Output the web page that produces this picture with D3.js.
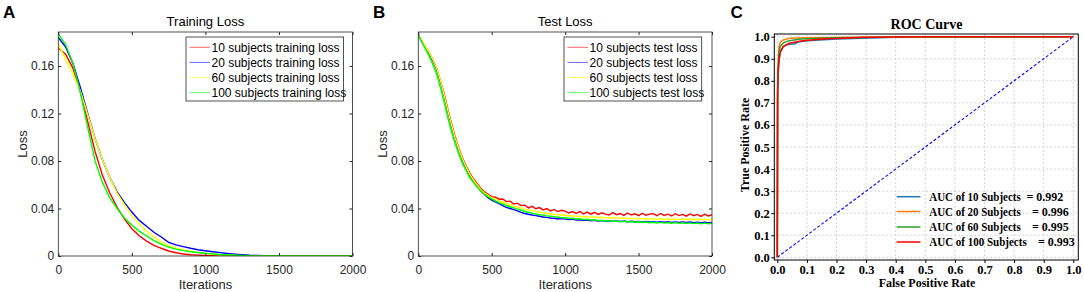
<!DOCTYPE html>
<html><head><meta charset="utf-8">
<script src="https://cdn.jsdelivr.net/npm/d3@7"></script>
<style>body{margin:0;background:#fff} svg{display:block} text{white-space:pre}</style>
</head><body><svg id="c" width="1084" height="292"></svg>
<script>
// ---------- DATA ----------
const trainIters = [0,50,100,150,200,250,300,350,400,450,500,550,600,650,700,750,800,850,900,950,1000,1050,1100,1150,1200,1250,1300,1350,1400,1450,1500,1550,1600,1650,1700,1750,1800,1850,1900,1950,2000];
const trainLabels = ["10 subjects training loss","20 subjects training loss","60 subjects training loss","100 subjects training loss"];
const train10 = [0.175,0.170,0.158,0.138,0.113,0.088,0.068,0.053,0.041,0.031,0.023,0.017,0.0125,0.009,0.0065,0.0042,0.0027,0.0017,0.0011,0.0007,0.0004,0.0002,0.0001,0,0,0,0,0,0,0,0,0,0,0,0,0,0,0,0,0,0];
const train20 = [0.184,0.176,0.162,0.142,0.120,0.099,0.081,0.066,0.054,0.045,0.037,0.030,0.025,0.020,0.016,0.0115,0.0094,0.0079,0.0065,0.0053,0.0044,0.0036,0.0028,0.0021,0.0015,0.0010,0.0006,0.0004,0.0002,0.0001,0.0001,0,0,0,0,0,0,0,0,0,0];
const train60 = [0.178,0.166,0.153,0.139,0.119,0.099,0.081,0.066,0.053,0.043,0.034,0.027,0.021,0.016,0.012,0.0085,0.0065,0.005,0.0038,0.0028,0.0020,0.0015,0.0011,0.0008,0.0005,0.0003,0.0002,0.0001,0.0001,0,0,0,0,0,0,0,0,0,0,0,0];
const train100 = [0.187,0.178,0.162,0.138,0.108,0.080,0.062,0.049,0.040,0.032,0.026,0.021,0.017,0.013,0.010,0.0075,0.0058,0.0045,0.0036,0.0029,0.0023,0.0018,0.0013,0.0009,0.0006,0.0004,0.0002,0.0001,0.0001,0,0,0,0,0,0,0,0,0,0,0,0];

const testIters = [0,25,50,75,100,125,150,175,200,225,250,275,300,325,350,375,400,425,450,475,500,525,550,575,600,625,650,675,700,725,750,775,800,825,850,875,900,925,950,975,1000,1025,1050,1075,1100,1125,1150,1175,1200,1225,1250,1275,1300,1325,1350,1375,1400,1425,1450,1475,1500,1525,1550,1575,1600,1625,1650,1675,1700,1725,1750,1775,1800,1825,1850,1875,1900,1925,1950,1975,2000];
const testLabels = ["10 subjects test loss","20 subjects test loss","60 subjects test loss","100 subjects test loss"];
const test10 = [0.186,0.181,0.176,0.171,0.165,0.158,0.148,0.137,0.124,0.112,0.101,0.091,0.083,0.076,0.070,0.065,0.061,0.057,0.054,0.052,0.050,
 0.0495,0.0478,0.0480,0.0458,0.0462,0.0438,0.0445,0.0425,0.0428,0.0405,0.0418,0.0398,0.0408,0.0388,0.0400,0.0380,0.0392,0.0374,0.0385,
 0.0378,0.0362,0.0374,0.0358,0.0376,0.0354,0.0370,0.0352,0.0368,0.0350,0.0364,0.0352,0.0346,0.0366,0.0348,0.0358,0.0342,0.0362,0.0345,0.0355,0.0340,0.0360,0.0343,0.0353,0.0356,0.0339,0.0358,0.0342,0.0352,0.0337,0.0356,0.0340,0.0350,0.0335,0.0354,0.0339,0.0350,0.0334,0.0352,0.0337,0.0348];
const test20 = [0.186,0.180,0.175,0.170,0.164,0.157,0.147,0.135,0.122,0.110,0.099,0.089,0.081,0.074,0.068,0.063,0.059,0.055,0.052,0.049,0.047,
 0.0455,0.044,0.0425,0.041,0.040,0.039,0.038,0.0368,0.0358,0.0352,0.0345,0.034,0.0335,0.0328,0.0325,0.032,0.0318,0.0312,0.0315,0.031,0.0306,0.031,0.0302,0.0305,0.030,0.0303,0.0297,0.0301,0.0295,0.0298,0.0293,0.0297,0.0292,0.0295,0.029,0.0294,0.0289,0.0293,0.0288,0.0291,0.0287,0.029,0.0286,0.0289,0.0285,0.0289,0.0284,0.0288,0.0283,0.0287,0.0283,0.0286,0.0282,0.0286,0.0281,0.0285,0.0281,0.0284,0.028,0.0283];
const test60 = [0.186,0.181,0.176,0.171,0.165,0.158,0.148,0.136,0.123,0.111,0.100,0.090,0.082,0.075,0.069,0.064,0.060,0.056,0.053,0.051,0.049,
 0.0478,0.0462,0.0455,0.044,0.0432,0.042,0.0412,0.0405,0.0392,0.039,0.038,0.0378,0.0368,0.0365,0.0358,0.0356,0.0348,0.035,0.0343,0.0345,0.0337,0.034,0.0332,0.0336,0.0328,0.0333,0.0325,0.033,0.0322,0.0327,0.032,0.0324,0.0318,0.0323,0.0316,0.032,0.0314,0.0319,0.0313,0.0317,0.0311,0.0316,0.031,0.0315,0.0309,0.0314,0.0308,0.0313,0.0307,0.0312,0.0306,0.0312,0.0306,0.0311,0.0305,0.0311,0.0305,0.031,0.0304,0.0309];
const test100 = [0.186,0.180,0.174,0.168,0.161,0.153,0.142,0.130,0.117,0.105,0.095,0.086,0.078,0.072,0.066,0.062,0.058,0.055,0.052,0.050,0.048,
 0.0465,0.045,0.0438,0.0425,0.0415,0.0405,0.0395,0.0385,0.0375,0.0368,0.036,0.0355,0.0348,0.0345,0.0338,0.0336,0.033,0.0328,0.0322,0.0323,0.0316,0.0318,0.0311,0.0313,0.0306,0.0309,0.0302,0.0305,0.0298,0.0301,0.0295,0.0298,0.0291,0.0295,0.0288,0.0292,0.0286,0.029,0.0284,0.0288,0.0282,0.0286,0.028,0.0284,0.0278,0.0283,0.0277,0.0282,0.0276,0.0281,0.0275,0.028,0.0274,0.0279,0.0273,0.0278,0.0272,0.0277,0.0272,0.0276];

const lossXTicks = [0,500,1000,1500,2000];
const lossYTicks = [0,0.04,0.08,0.12,0.16];
const lossColors = ["#ff0000","#0000ff","#ffff00","#00ff00"];

const rocNames = ["AUC of 10 Subjects","AUC of 20 Subjects","AUC of 60 Subjects","AUC of 100 Subjects"];
const rocAUC = ["= 0.992","= 0.996","= 0.995","= 0.993"];
const rocColors = ["#1f77b4","#ff7f0e","#2ca02c","#ff0000"];
const roc10FPR = [0,0.001,0.002,0.005,0.01,0.02,0.03,0.045,0.06,0.07,0.1,0.2,0.4,1];
const roc10TPR = [0,0.70,0.80,0.88,0.93,0.955,0.963,0.966,0.968,0.976,0.982,0.99,0.998,1];
const roc20FPR = [0,0.001,0.002,0.005,0.01,0.02,0.04,0.1,0.3,1];
const roc20TPR = [0,0.75,0.85,0.95,0.975,0.985,0.993,0.995,0.998,1];
const roc60FPR = [0,0.001,0.002,0.005,0.01,0.02,0.04,0.08,0.2,0.4,1];
const roc60TPR = [0,0.72,0.83,0.92,0.955,0.972,0.982,0.99,0.995,0.999,1];
const roc100FPR = [0,0.001,0.003,0.006,0.01,0.02,0.04,0.08,0.15,0.3,0.5,1];
const roc100TPR = [0,0.75,0.85,0.90,0.93,0.955,0.97,0.98,0.99,0.997,1,1];
const rocTicks = [0,0.1,0.2,0.3,0.4,0.5,0.6,0.7,0.8,0.9,1.0];

// ---------- DRAW ----------
const svg = d3.select('#c');
const SANS = "'Liberation Sans', Arial, Helvetica, sans-serif";
const SERIF = "'Liberation Serif', 'Times New Roman', serif";
const AX = "#262626";

function letter(x, t){
  svg.append('text').attr('x',x).attr('y',18).attr('font-family',SANS).attr('font-weight','bold')
    .attr('font-size',17).attr('fill','#000').text(t);
}

function lossPanel(o){
  const x = d3.scaleLinear().domain([0,2000]).range([o.x0,o.x1]);
  const y = d3.scaleLinear().domain([0,0.1886]).range([256,32]);
  const g = svg.append('g');
  g.append('rect').attr('x',o.x0).attr('y',32).attr('width',o.x1-o.x0).attr('height',224).attr('fill','#fff');
  const clip = 'clip'+o.id;
  svg.append('clipPath').attr('id',clip).append('rect').attr('x',o.x0).attr('y',32).attr('width',o.x1-o.x0).attr('height',224);
  const line = d3.line().x(d=>x(d[0])).y(d=>y(d[1]));
  const cg = g.append('g').attr('clip-path',`url(#${clip})`);
  o.series.forEach((s,i)=>{
    cg.append('path').datum(o.iters.map((t,k)=>[t,s[k]])).attr('d',line)
      .attr('fill','none').attr('stroke',lossColors[i]).attr('stroke-width',1.4);
  });
  const fmtY = d=> d===0 ? '0' : d.toFixed(2);
  const styleAx = a=>{ a.select('.domain').remove(); a.selectAll('line').attr('stroke',AX);
    a.selectAll('text').attr('font-family',SANS).attr('font-size',12).attr('fill',AX); };
  g.append('g').attr('transform','translate(0,256)')
    .call(d3.axisBottom(x).tickValues(lossXTicks).tickSizeInner(-3).tickSizeOuter(0).tickPadding(9).tickFormat(d3.format('d'))).call(styleAx);
  g.append('g').attr('transform','translate(0,32)')
    .call(d3.axisTop(x).tickValues(lossXTicks).tickSizeInner(-3).tickSizeOuter(0).tickFormat('')).call(styleAx);
  g.append('g').attr('transform',`translate(${o.x0},0)`)
    .call(d3.axisLeft(y).tickValues(lossYTicks).tickSizeInner(-3).tickSizeOuter(0).tickPadding(4).tickFormat(fmtY)).call(styleAx);
  g.append('g').attr('transform',`translate(${o.x1},0)`)
    .call(d3.axisRight(y).tickValues(lossYTicks).tickSizeInner(-3).tickSizeOuter(0).tickFormat('')).call(styleAx);
  g.append('rect').attr('x',o.x0).attr('y',32).attr('width',o.x1-o.x0).attr('height',224)
    .attr('fill','none').attr('stroke',AX).attr('stroke-width',0.8);
  g.append('text').attr('x',(o.x0+o.x1)/2).attr('y',26).attr('text-anchor','middle')
    .attr('font-family',SANS).attr('font-size',13).attr('fill','#000').text(o.title);
  g.append('text').attr('x',(o.x0+o.x1)/2).attr('y',289).attr('text-anchor','middle')
    .attr('font-family',SANS).attr('font-size',13).attr('fill',AX).text('Iterations');
  g.append('text').attr('transform',`translate(${o.x0-31},144) rotate(-90)`).attr('text-anchor','middle')
    .attr('font-family',SANS).attr('font-size',13).attr('fill',AX).text('Loss');
  const L = o.legend;
  g.append('rect').attr('x',L.x).attr('y',37).attr('width',L.w).attr('height',64)
    .attr('fill','#fff').attr('stroke',AX).attr('stroke-width',0.8);
  o.labels.forEach((lab,i)=>{
    const yy = 47.3 + i*15.1;
    g.append('line').attr('x1',L.x+3.5).attr('x2',L.x+24).attr('y1',yy).attr('y2',yy)
      .attr('stroke',lossColors[i]).attr('stroke-width',1).attr('stroke-opacity',0.6);
    g.append('text').attr('x',L.x+25.5).attr('y',yy+4.3).attr('font-family',SANS).attr('font-size',12)
      .attr('fill','#000').text(lab);
  });
}

lossPanel({id:'A',x0:58.3,x1:352.5,title:'Training Loss',iters:trainIters,
  series:[train10,train20,train60,train100],labels:trainLabels,legend:{x:186,w:157.5}});
lossPanel({id:'B',x0:418.3,x1:712,title:'Test Loss',iters:testIters,
  series:[test10,test20,test60,test100],labels:testLabels,legend:{x:564,w:137.7}});
letter(3,'A'); letter(373,'B'); letter(730.5,'C');

// ---------- ROC ----------
(function(){
  const bx0=774.3, bx1=1078.3, by0=34, by1=260;
  const x = d3.scaleLinear().domain([0,1]).range([777.3,1073.3]);
  const y = d3.scaleLinear().domain([0,1]).range([257.3,36.7]);
  const g = svg.append('g');
  g.append('rect').attr('x',bx0).attr('y',by0).attr('width',bx1-bx0).attr('height',by1-by0).attr('fill','#fff');
  rocTicks.forEach(t=>{
    g.append('line').attr('x1',x(t)).attr('x2',x(t)).attr('y1',by0).attr('y2',by1)
      .attr('stroke','#c8c8c8').attr('stroke-width',0.8).attr('stroke-dasharray','2,2');
    g.append('line').attr('x1',bx0).attr('x2',bx1).attr('y1',y(t)).attr('y2',y(t))
      .attr('stroke','#c8c8c8').attr('stroke-width',0.8).attr('stroke-dasharray','2,2');
  });
  g.append('path').datum([[0,0],[1,1]]).attr('d',d3.line().x(d=>x(d[0])).y(d=>y(d[1])))
    .attr('stroke','#0000ff').attr('stroke-width',1.1).attr('stroke-dasharray','3,2').attr('fill','none');
  const curves = [[roc10FPR,roc10TPR],[roc20FPR,roc20TPR],[roc60FPR,roc60TPR],[roc100FPR,roc100TPR]];
  const line = d3.line().x(d=>x(d[0])).y(d=>y(d[1]));
  curves.forEach((c,i)=>{
    g.append('path').datum(c[0].map((f,k)=>[f,c[1][k]])).attr('d',line)
      .attr('fill','none').attr('stroke',rocColors[i]).attr('stroke-width',1.5);
  });
  g.append('rect').attr('x',bx0).attr('y',by0).attr('width',bx1-bx0).attr('height',by1-by0)
    .attr('fill','none').attr('stroke','#000').attr('stroke-width',1);
  const styleAx = a=>{ a.select('.domain').remove(); a.selectAll('line').attr('stroke','#000');
    a.selectAll('text').attr('font-family',SERIF).attr('font-weight','bold').attr('font-size',12.5).attr('fill','#000'); };
  g.append('g').attr('transform',`translate(0,${by1})`)
    .call(d3.axisBottom(x).tickValues(rocTicks).tickSizeInner(3).tickSizeOuter(0).tickPadding(2).tickFormat(d3.format('.1f'))).call(styleAx);
  g.append('g').attr('transform',`translate(${bx0},0)`)
    .call(d3.axisLeft(y).tickValues(rocTicks).tickSizeInner(3).tickSizeOuter(0).tickPadding(1.5).tickFormat(d3.format('.1f'))).call(styleAx);
  g.append('text').attr('x',926.5).attr('y',29).attr('text-anchor','middle').attr('font-family',SERIF)
    .attr('font-weight','bold').attr('font-size',14).text('ROC Curve');
  g.append('text').attr('x',927).attr('y',287).attr('text-anchor','middle').attr('font-family',SERIF)
    .attr('font-weight','bold').attr('font-size',12).text('False Positive Rate');
  g.append('text').attr('transform','translate(749,145) rotate(-90)').attr('text-anchor','middle').attr('font-family',SERIF)
    .attr('font-weight','bold').attr('font-size',12).text('True Positive Rate');
  const nameW = [91.4,91.4,91.4,97.4];
  const eqX = [1026.5,1032,1032,1038];
  const rowY = [196.7,211.5,227,242];
  rocNames.forEach((lab,i)=>{
    const yy = rowY[i];
    g.append('line').attr('x1',896.7).attr('x2',920.5).attr('y1',yy).attr('y2',yy)
      .attr('stroke',rocColors[i]).attr('stroke-width',1.5);
    g.append('text').attr('x',929.3).attr('y',yy+4).attr('font-family',SERIF).attr('font-weight','bold')
      .attr('font-size',12).attr('fill','#000').attr('textLength',nameW[i]).attr('lengthAdjust','spacingAndGlyphs').text(lab);
    g.append('text').attr('x',eqX[i]).attr('y',yy+4).attr('font-family',SERIF).attr('font-weight','bold')
      .attr('font-size',12).attr('fill','#000').text(rocAUC[i]);
  });
})();
</script></body></html>
